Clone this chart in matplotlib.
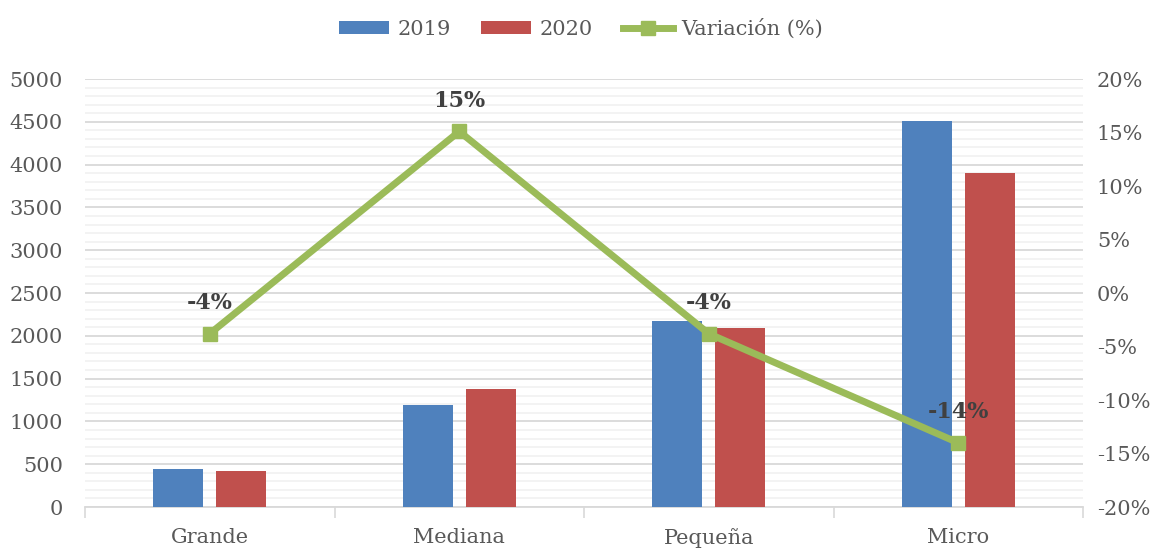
import numpy as np
import matplotlib
matplotlib.use('Agg')
import matplotlib.pyplot as plt
from matplotlib.ticker import MultipleLocator, FuncFormatter

# data
categories = ['Grande', 'Mediana', 'Pequeña', 'Micro']
values_2019 = [444, 1192, 2173, 4515]
values_2020 = [420, 1378, 2091, 3902]
variation = [-3.8, 15.1, -3.8, -14.0]  # %

blue = '#4F81BD'
red = '#C0504D'
green = '#9BBB59'
txt = '#595959'
fs = 15

plt.rcParams['font.family'] = ['DejaVu Serif']

fig = plt.figure(figsize=(11.62, 5.48), dpi=100)
ax = fig.add_axes([0.0732, 0.0748, 0.8588, 0.781])
ax2 = ax.twinx()

x = np.arange(len(categories))
w = 0.2
off = 0.126
b1 = ax.bar(x - off, values_2019, w, color=blue, label='2019', zorder=3)
b2 = ax.bar(x + off, values_2020, w, color=red, label='2020', zorder=3)

ax.set_xlim(-0.5, len(categories) - 0.5)
ax.set_ylim(0, 5000)
ax.yaxis.set_major_locator(MultipleLocator(500))
ax.yaxis.set_minor_locator(MultipleLocator(100))
ax.grid(axis='y', which='major', color='#D9D9D9', lw=1.3, zorder=0)
ax.grid(axis='y', which='minor', color='#F2F2F2', lw=1.3, zorder=0)
ax.set_axisbelow(True)

# category ticks at boundaries
ax.set_xticks(np.arange(-0.5, len(categories)), minor=False)
ax.set_xticklabels([])
ax.set_xticks(x, minor=True)
ax.set_xticklabels(categories, minor=True)
ax.tick_params(axis='x', which='major', length=8, color='#D9D9D9', width=1.2)
ax.tick_params(axis='x', which='minor', length=0, pad=15, labelsize=fs, labelcolor=txt)
ax.tick_params(axis='y', which='both', length=0, pad=16, labelsize=fs, labelcolor=txt)

for s in ['left', 'right', 'top']:
    ax.spines[s].set_visible(False)
    ax2.spines[s].set_visible(False)
ax.spines['bottom'].set_color('#D9D9D9')
ax.spines['bottom'].set_linewidth(1.3)
ax2.spines['bottom'].set_visible(False)

line, = ax2.plot(x, variation, color=green, lw=5, marker='s', markersize=10,
                 label='Variación (%)', zorder=4)
ax2.set_ylim(-20, 20)
ax2.yaxis.set_major_locator(MultipleLocator(5))
ax2.yaxis.set_major_formatter(FuncFormatter(lambda v, p: f'{v:.0f}%'))
ax2.tick_params(axis='y', length=0, pad=10, labelsize=fs, labelcolor=txt)
for label in ax2.get_yticklabels():
    label.set_ha('left')

for xi, v in zip(x, variation):
    ax2.annotate(f'{v:.0f}%', (xi, v), xytext=(0, 14), textcoords='offset points',
                 ha='center', va='bottom', fontsize=16, fontweight='bold', color='#404040')

fig.legend(handles=[b1, b2, line], loc='upper center', bbox_to_anchor=(0.5, 1.0),
           ncol=3, frameon=False, fontsize=fs, labelcolor=txt,
           handlelength=2.4, handleheight=0.6, handletextpad=0.4, columnspacing=1.45)

fig.savefig('out.png', dpi=100)
